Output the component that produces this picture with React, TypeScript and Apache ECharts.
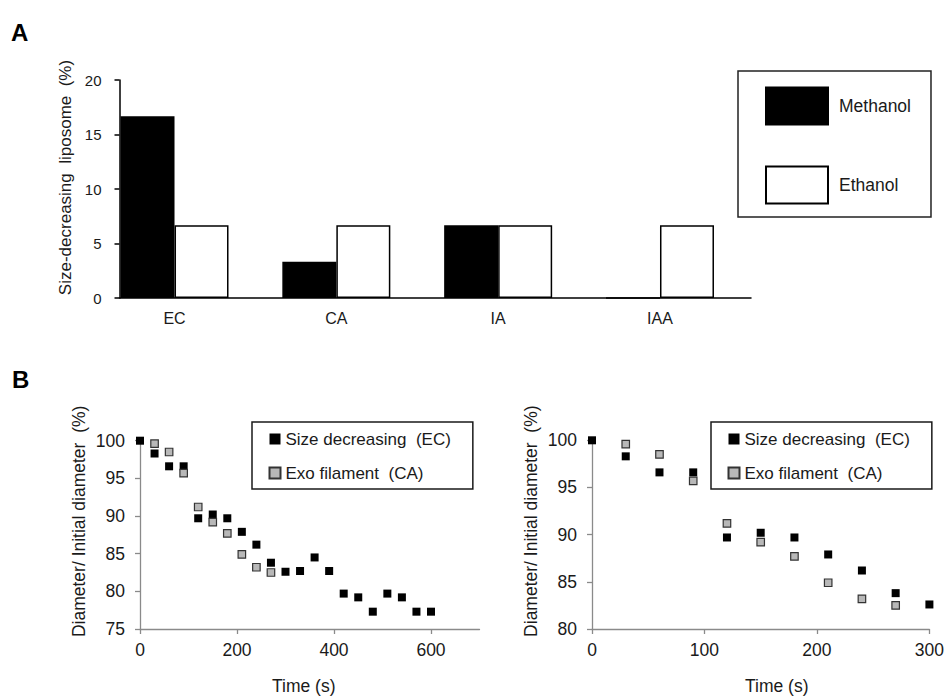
import React, { useEffect, useRef } from "react";
import * as echarts from "echarts";

const categories = ["EC", "CA", "IA", "IAA"];
const methanolValues = [16.67, 3.33, 6.67, 0];
const ethanolValues = [6.67, 6.67, 6.67, 6.67];

const timeEC = [0, 30, 60, 90, 120, 150, 180, 210, 240, 270, 300, 330, 360, 390, 420, 450, 480, 510, 540, 570, 600];
const sizeEC = [100, 98.3, 96.6, 96.6, 89.7, 90.2, 89.7, 87.9, 86.2, 83.8, 82.6, 82.7, 84.5, 82.7, 79.7, 79.2, 77.3, 79.7, 79.2, 77.3, 77.3];
const timeCA = [30, 60, 90, 120, 150, 180, 210, 240, 270];
const sizeCA = [99.6, 98.5, 95.7, 91.2, 89.2, 87.7, 84.9, 83.2, 82.5];

const leftTicksB = [0, 200, 400, 600];
const rightTicksB = [0, 100, 200, 300];

const FONT = "'Liberation Sans', Arial, Helvetica, sans-serif";
const TXT = "#1a1a1a";
const GRAY_AXIS = "#8a8a8a";

const nameEC = "Size decreasing  (EC)";
const nameCA = "Exo filament  (CA)";

function pairs(xs: number[], ys: number[], maxX: number) {
  const out: number[][] = [];
  xs.forEach((x, i) => {
    if (x <= maxX) out.push([x, ys[i]]);
  });
  return out;
}

export default function App() {
  const ref = useRef<HTMLDivElement>(null);
  useEffect(() => {
    if (!ref.current) return;
    const chart = echarts.init(ref.current, null, { renderer: "svg" });

    const bAxisY = (min: number, gridIndex: number) => ({
      type: "value",
      gridIndex,
      min,
      max: 100,
      interval: 5,
      name: "Diameter/ Initial diameter  (%)",
      nameLocation: "middle",
      nameRotate: 90,
      nameGap: 52,
      nameTextStyle: { fontSize: 17.5, color: TXT, fontFamily: FONT, padding: [0, 0, 0, 27] },
      axisLine: { show: true, lineStyle: { color: GRAY_AXIS, width: 1.3 } },
      axisTick: { show: true, length: 5, lineStyle: { color: GRAY_AXIS, width: 1.3 } },
      axisLabel: { fontSize: 17.5, color: TXT, fontFamily: FONT, margin: 15 },
      splitLine: { show: false },
    });

    const bAxisX = (max: number, interval: number, ticks: number[], gridIndex: number, namePad: number[]) => ({
      type: "value",
      gridIndex,
      min: 0,
      max,
      interval,
      name: "Time (s)",
      nameLocation: "middle",
      nameGap: 48,
      nameTextStyle: { fontSize: 17.5, color: TXT, fontFamily: FONT, padding: namePad },
      axisLine: { show: true, onZero: false, lineStyle: { color: GRAY_AXIS, width: 1.3 } },
      axisTick: { show: true, length: 5, customValues: ticks, lineStyle: { color: GRAY_AXIS, width: 1.3 } },
      axisLabel: { fontSize: 17.5, color: TXT, fontFamily: FONT, margin: 12, customValues: ticks },
      splitLine: { show: false },
    });

    const ecStyle = { color: "#000000", opacity: 1 };
    const caStyle = { color: "#b8b8b8", borderColor: "#333333", borderWidth: 1.2, opacity: 1 };

    const legendB = (left: number) => ({
      left,
      top: 422,
      orient: "vertical",
      data: [nameEC, nameCA],
      icon: "rect",
      itemWidth: 11,
      itemHeight: 11,
      itemGap: 14,
      padding: [7, 22, 6, 16.5],
      borderColor: "#1a1a1a",
      borderWidth: 1.5,
      selectedMode: false,
      textStyle: { fontSize: 17, color: TXT, fontFamily: FONT, lineHeight: 20 },
    });

    chart.setOption({
      animation: false,
      backgroundColor: "#ffffff",
      textStyle: { fontFamily: FONT },
      grid: [
        { left: 119.5, top: 80, width: 631.5, height: 218 },
        { left: 93.6, top: 80, width: 647.3, height: 218 },
        { left: 140, top: 440.7, width: 339.5, height: 196.6 },
        { left: 592, top: 440.3, width: 339, height: 197 },
      ],
      xAxis: [
        {
          type: "value",
          gridIndex: 0,
          min: 0,
          max: 1,
          axisLine: { show: true, lineStyle: { color: "#000", width: 1.5 } },
          axisTick: { show: false },
          axisLabel: { show: false },
          splitLine: { show: false },
        },
        {
          type: "category",
          gridIndex: 1,
          data: categories,
          axisLine: { show: false },
          axisTick: { show: false },
          axisLabel: { fontSize: 16, color: TXT, fontFamily: FONT, margin: 12 },
        },
        bAxisX(700, 200, leftTicksB, 2, [0, 12, 0, 0]),
        bAxisX(300, 100, rightTicksB, 3, [0, 0, 0, 32]),
      ],
      yAxis: [
        {
          type: "value",
          gridIndex: 0,
          min: 0,
          max: 20,
          interval: 5,
          name: "Size-decreasing  liposome  (%)",
          nameLocation: "middle",
          nameRotate: 90,
          nameGap: 46,
          nameTextStyle: { fontSize: 17, color: TXT, fontFamily: FONT, padding: [0, 0, 0, 23] },
          axisLine: { show: true, lineStyle: { color: "#000", width: 1.5 } },
          axisTick: { show: true, length: 5, lineStyle: { color: "#000", width: 1.5 } },
          axisLabel: { fontSize: 15, color: TXT, fontFamily: FONT, margin: 18 },
          splitLine: { show: false },
        },
        { type: "value", gridIndex: 1, min: 0, max: 20, show: false, splitLine: { show: false } },
        bAxisY(75, 2),
        bAxisY(80, 3),
      ],
      legend: [
        {
          left: 738,
          top: 71,
          orient: "vertical",
          data: ["Methanol", "Ethanol"],
          icon: "rect",
          itemWidth: 62,
          itemHeight: 37,
          itemGap: 40,
          padding: [15.5, 20, 12.5, 27],
          borderColor: "#222",
          borderWidth: 1.5,
          selectedMode: false,
          textStyle: { fontSize: 17.5, color: TXT, fontFamily: FONT, padding: [0, 0, 0, 6] },
        },
        legendB(252),
        legendB(711),
      ],
      series: [
        {
          name: "Methanol",
          type: "bar",
          xAxisIndex: 1,
          yAxisIndex: 1,
          data: methanolValues,
          barWidth: 54,
          barGap: "0%",
          itemStyle: { color: "#000000", borderColor: "#000000", borderWidth: 1.5 },
        },
        {
          name: "Ethanol",
          type: "bar",
          xAxisIndex: 1,
          yAxisIndex: 1,
          data: ethanolValues,
          barWidth: 54,
          barGap: "0%",
          itemStyle: { color: "#ffffff", borderColor: "#000000", borderWidth: 1.5 },
        },
        {
          name: nameEC,
          type: "scatter",
          xAxisIndex: 2,
          yAxisIndex: 2,
          symbol: "rect",
          symbolSize: 8,
          data: pairs(timeEC, sizeEC, 700),
          itemStyle: ecStyle,
        },
        {
          name: nameCA,
          type: "scatter",
          xAxisIndex: 2,
          yAxisIndex: 2,
          symbol: "rect",
          symbolSize: 7.5,
          data: pairs(timeCA, sizeCA, 700),
          itemStyle: caStyle,
        },
        {
          name: nameEC,
          type: "scatter",
          xAxisIndex: 3,
          yAxisIndex: 3,
          symbol: "rect",
          symbolSize: 8,
          data: pairs(timeEC, sizeEC, 300),
          itemStyle: ecStyle,
          clip: false,
        },
        {
          name: nameCA,
          type: "scatter",
          xAxisIndex: 3,
          yAxisIndex: 3,
          symbol: "rect",
          symbolSize: 7.5,
          data: pairs(timeCA, sizeCA, 300),
          itemStyle: caStyle,
          clip: false,
        },
      ],
      graphic: [
        {
          type: "text",
          left: 11,
          top: 20,
          style: { text: "A", fontSize: 24, fontWeight: "bold", fill: "#000", fontFamily: FONT },
        },
        {
          type: "text",
          left: 12,
          top: 367,
          style: { text: "B", fontSize: 24, fontWeight: "bold", fill: "#000", fontFamily: FONT },
        },
      ],
    });
    return () => chart.dispose();
  }, []);
  return (
    <div
      ref={ref}
      style={{ position: "fixed", left: 0, top: 0, width: 947, height: 696, background: "#fff" }}
    />
  );
}
